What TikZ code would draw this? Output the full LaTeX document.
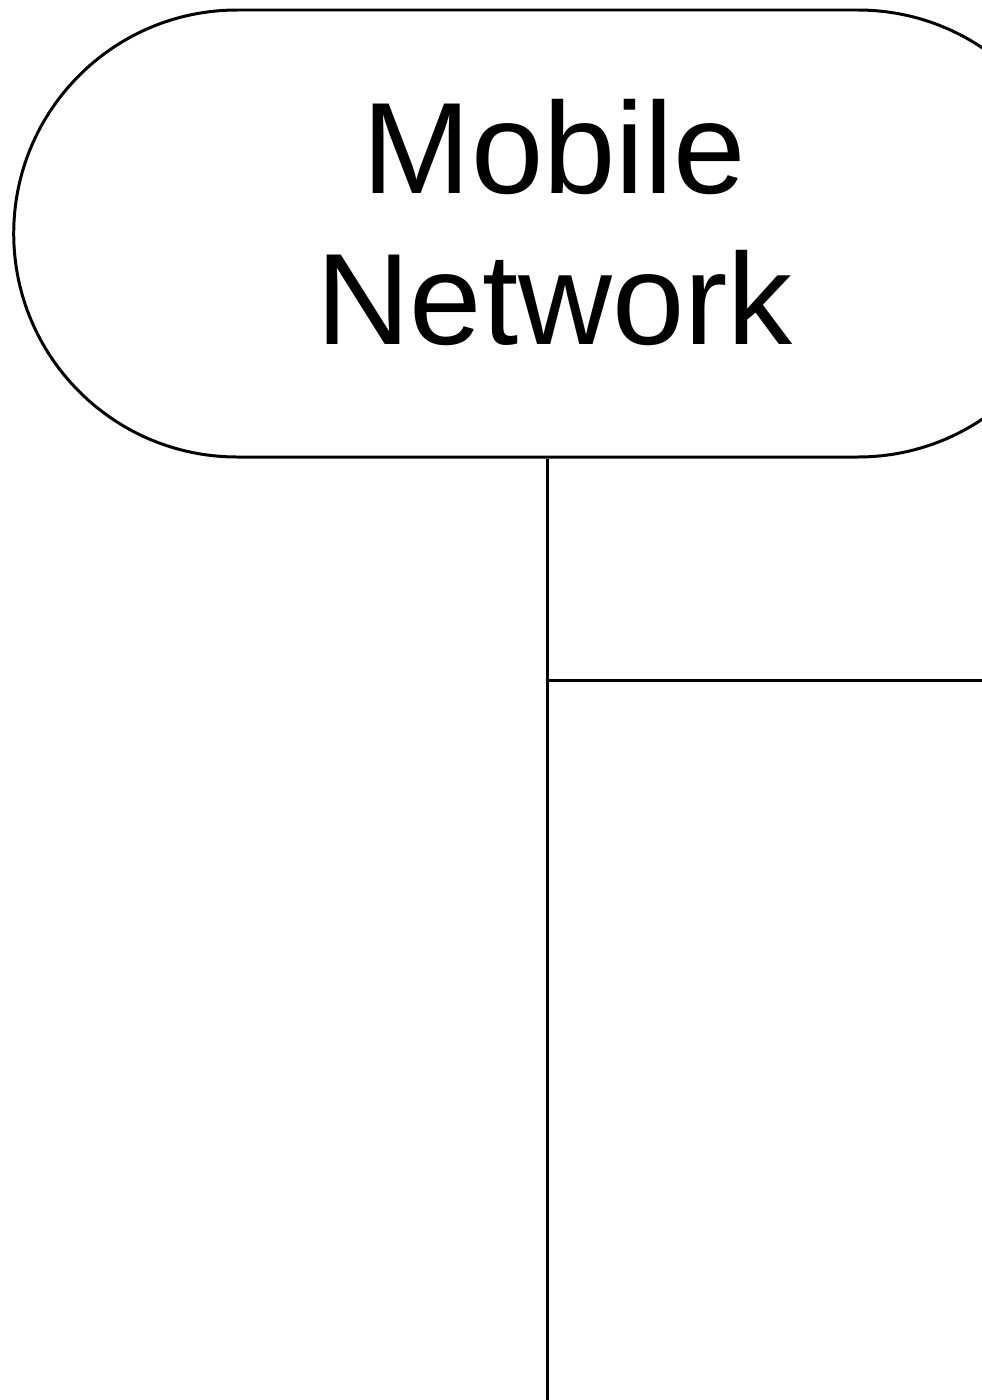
\documentclass[tikz,border=0pt]{standalone}
\usepackage{fontspec}
\setmainfont{Liberation Sans}
\usetikzlibrary{shapes.misc}
\begin{document}
\begin{tikzpicture}
		\tikzset{reseau/.style={draw, line width=0.85pt, rounded rectangle, minimum width=10.91cm, minimum height=4.47cm}}
		\tikzset{titre/.style={align=center, font=\fontsize{37}{42.96}\selectfont}}
		\tikzset{trait/.style={line width=0.85pt}}
		\useasboundingbox (0,0) rectangle (9.82,-14);

		\node[reseau] (M) at (5.475,-2.335) {};
		\node[titre] (T) at (5.545,-2.23) {Mobile\\Network};
		\coordinate (B) at (5.475,-14);
		\coordinate (J) at (5.475,-6.80);
		\coordinate (R) at (9.82,-6.80);

    \draw[trait] (M.south) -- (B);
    \draw[trait] (J) -- (R);

		\end{tikzpicture}
\end{document}
